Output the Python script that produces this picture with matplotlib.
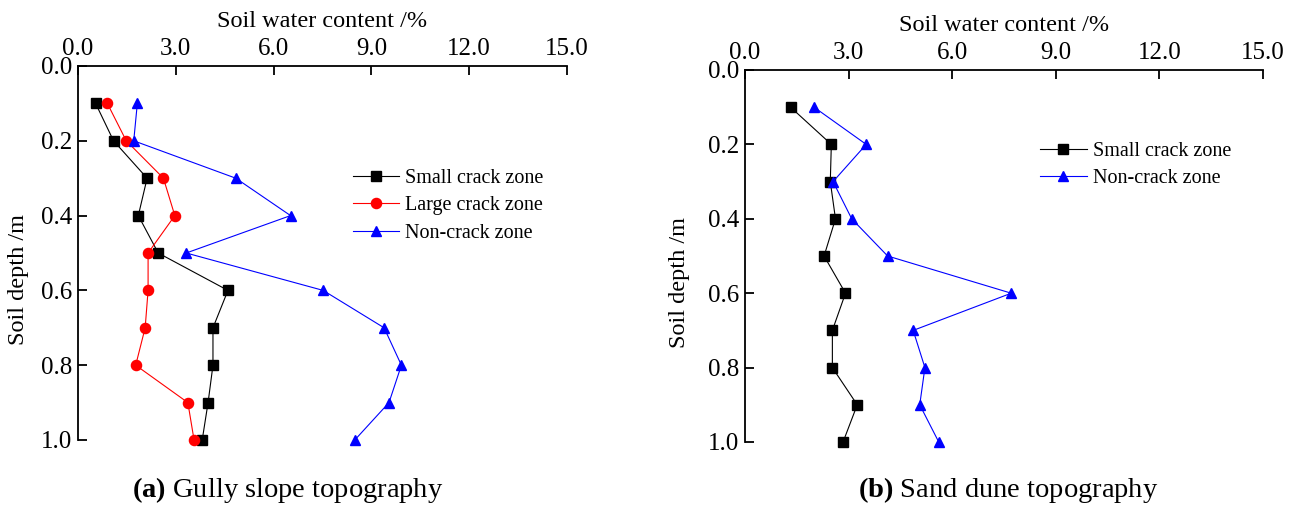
import matplotlib
matplotlib.use("Agg")
import matplotlib.pyplot as plt

plt.rcParams['font.family'] = ['Liberation Serif', 'DejaVu Serif']
plt.rcParams['mathtext.fontset'] = 'custom'
plt.rcParams['mathtext.bf'] = 'Liberation Serif:bold'
plt.rcParams['mathtext.rm'] = 'Liberation Serif'

depth = [0.1, 0.2, 0.3, 0.4, 0.5, 0.6, 0.7, 0.8, 0.9, 1.0]

# (a) Gully slope topography
gully_small = [0.54, 1.09, 2.12, 1.85, 2.46, 4.60, 4.14, 4.14, 3.99, 3.81]
gully_large = [0.90, 1.48, 2.62, 2.97, 2.15, 2.15, 2.06, 1.77, 3.37, 3.56]
gully_non = [1.82, 1.71, 4.84, 6.52, 3.32, 7.52, 9.39, 9.92, 9.54, 8.49]

# (b) Sand dune topography
dune_small = [1.32, 2.50, 2.47, 2.62, 2.29, 2.91, 2.53, 2.53, 3.25, 2.84]
dune_non = [2.00, 3.51, 2.55, 3.09, 4.13, 7.71, 4.87, 5.21, 5.06, 5.61]

xticks = [0.0, 3.0, 6.0, 9.0, 12.0, 15.0]
yticks = [0.0, 0.2, 0.4, 0.6, 0.8, 1.0]

W, H = 1299, 507
fig = plt.figure(figsize=(W / 100, H / 100), dpi=100)

def px_axes(x0, x1, ytop, ybot):
    return fig.add_axes([x0 / W, 1 - ybot / H, (x1 - x0) / W, (ybot - ytop) / H])

ax1 = px_axes(78, 567, 66, 440)
ax2 = px_axes(745, 1263, 70, 442)

def style(ax):
    ax.set_xlim(0, 15)
    ax.set_ylim(1.0, 0.0)
    ax.xaxis.set_label_position('top')
    ax.xaxis.tick_top()
    ax.set_xticks(xticks)
    ax.set_xticklabels([f"{v:.1f}" for v in xticks])
    ax.set_yticks(yticks)
    ax.set_yticklabels([f"{v:.1f}" for v in yticks])
    for s in ['right', 'bottom']:
        ax.spines[s].set_visible(False)
    for s in ['top', 'left']:
        ax.spines[s].set_linewidth(1.3)
    ax.tick_params(axis='both', direction='in', length=6.5, width=1.3,
                   labelsize=18, pad=4)
    ax.set_xlabel('Soil water content /%', fontsize=17.5, labelpad=8)
    ax.set_ylabel('Soil depth /m', fontsize=17.5)
    ax.patch.set_alpha(0)

style(ax1)
style(ax2)

mk = dict(markersize=7.3, linewidth=0.8)
ax1.plot(gully_small, depth, '-s', color='black', label='Small crack zone', **mk)
ax1.plot(gully_large, depth, '-o', color='red', label='Large crack zone', **mk)
ax1.plot(gully_non, depth, '-^', color='blue', label='Non-crack zone', **mk)

ax2.plot(dune_small, depth, '-s', color='black', label='Small crack zone', **mk)
ax2.plot(dune_non, depth, '-^', color='blue', label='Non-crack zone', **mk)

for ax in (ax1, ax2):
    for ln in ax.lines:
        ln.set_clip_on(False)

leg_kw = dict(frameon=False, fontsize=14.5, handlelength=2.3, handletextpad=0.3,
              labelspacing=0.4, borderpad=0, borderaxespad=0, loc='center left')
ax1.legend(bbox_to_anchor=(0.562, 0.626), **leg_kw)
ax2.legend(bbox_to_anchor=(0.57, 0.745), **leg_kw)

ax1.yaxis.set_label_coords(-0.100, 0.43)
ax2.yaxis.set_label_coords(-0.106, 0.43)

fig.text(288 / W, 1 - 490 / H, r'$\mathbf{(a)}$ Gully slope topography',
         ha='center', va='center', fontsize=20.5)
fig.text(1008 / W, 1 - 490 / H, r'$\mathbf{(b)}$ Sand dune topography',
         ha='center', va='center', fontsize=20.5)

fig.savefig('out.png', dpi=100)
